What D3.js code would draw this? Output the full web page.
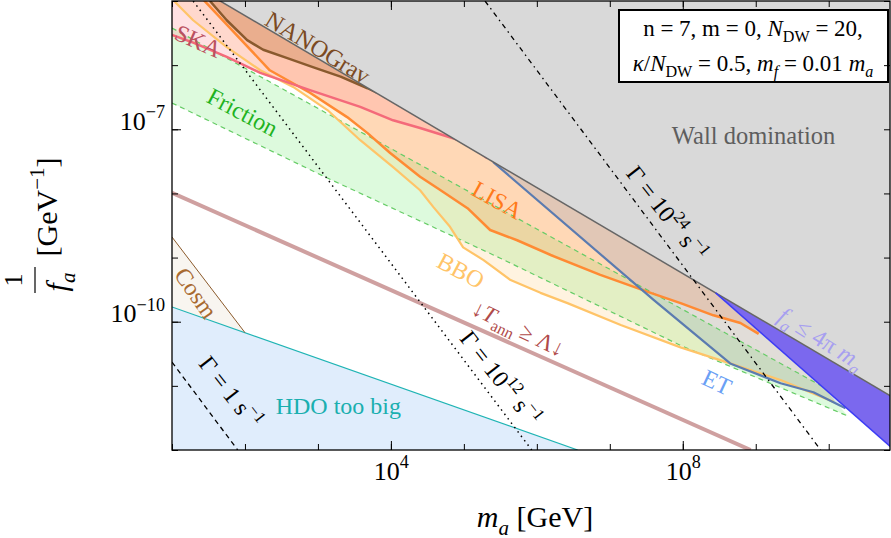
<!DOCTYPE html>
<html>
<head>
<meta charset="utf-8">
<script src="https://cdn.jsdelivr.net/npm/d3@7"></script>
<style>
  body { margin: 0; background: #fff; }
  svg text { font-family: "Liberation Serif", "Times New Roman", serif; }
</style>
</head>
<body>
<svg id="chart" width="891" height="538"></svg>
<script>
// every curve is a list of [log10(m_a / GeV), log10(1/f_a * GeV)] points
const wallLine = [[1.6, -4.96], [11.0, -11.26]];
const fourPiLine = [[8.45, -9.55], [11.0, -12.1]];
const nanogravLine = [[1.52, -5.0], [1.75, -5.30], [2.03, -5.61], [2.25, -5.76], [2.58, -5.89],
  [2.93, -6.03], [3.31, -6.18], [3.68, -6.36], [3.81, -6.43]];
const skaLine = [[1.0, -5.53], [1.29, -5.65], [1.75, -5.87], [2.21, -6.12], [2.89, -6.39],
  [3.58, -6.65], [4.03, -6.86], [4.40, -6.98], [5.05, -7.21], [5.32, -7.45]];
const lisaLine = [[1.43, -4.98], [2.34, -6.08], [2.89, -6.43], [3.40, -6.81], [3.68, -7.06],
  [3.99, -7.37], [4.40, -7.74], [4.64, -7.92], [5.05, -8.23], [5.36, -8.57], [5.73, -8.73],
  [6.19, -8.96], [6.87, -9.27], [7.56, -9.55], [7.97, -9.71], [8.42, -9.90], [8.79, -10.02],
  [9.04, -10.19]];
const bboLine = [[1.01, -4.98], [1.29, -5.30], [1.75, -5.72], [2.21, -6.08], [2.66, -6.34],
  [3.13, -6.70], [3.58, -7.17], [4.03, -7.59], [4.40, -7.95], [4.58, -8.21], [4.81, -8.52],
  [4.99, -8.84], [5.27, -9.04], [5.64, -9.35], [6.05, -9.55], [6.42, -9.71], [7.15, -10.05],
  [7.97, -10.40], [8.65, -10.65], [9.34, -10.91], [10.07, -11.25]];
const etLine = [[5.40, -7.51], [7.60, -9.66], [8.65, -10.65], [9.34, -10.96], [9.79, -11.10],
  [10.23, -11.35]];
const frictionUpper = [[1.0, -5.42], [9.93, -11.02]];
const frictionLower = [[1.0, -6.59], [3.13, -7.76], [5.50, -9.01], [7.97, -10.37], [10.26, -11.47]];
const tannLine = [[1.0, -7.99], [8.93, -12.0]];
const hdoLine = [[1.0, -9.77], [6.56, -12.0]];
const cosmLine = [[1.0, -8.68], [2.0, -10.17]];
const gamma24Line = [[5.29, -5.0], [9.89, -12.0]];
const gamma12Line = [[1.29, -5.0], [5.93, -12.0]];
const gamma1Line = [[1.0, -10.63], [1.9, -12.0]];
const xTicks = [1, 2, 3, 4, 5, 6, 7, 8, 9, 10];
const xLabelled = [4, 8];
const yTicks = [-12, -11, -10, -9, -8, -7, -6, -5];
const yLabelled = [-10, -7];

const W = 891;
const H = 538;
const margin = { top: 1, right: 1, bottom: 88, left: 172 };
const topLog = -4.8;
const bottomLog = -12.2;
const serif = '"Liberation Serif", "Times New Roman", serif';

const svg = d3.select('#chart');
const x = d3.scaleLog().domain([1e1, 10 ** 10.84]).range([margin.left, W - margin.right]);
const y = d3.scaleLog().domain([1e-12, 1e-5]).range([H - margin.bottom, margin.top]);
const line = d3.line().x((d) => x(10 ** d[0])).y((d) => y(10 ** d[1]));
const area = (pts) => `${line(pts)}Z`;
const above = (pts) => [...pts, [pts[pts.length - 1][0], topLog], [pts[0][0], topLog]];
const below = (pts) => [...pts, [pts[pts.length - 1][0], bottomLog], [pts[0][0], bottomLog]];

// write text with italic / sub / superscript pieces
function rich(sel, parts, size) {
  let shift = 0;
  sel.attr('font-family', serif);
  parts.forEach((p) => {
    let target = 0;
    if (p.sub) target = size * 0.25;
    if (p.sup) target = -size * 0.45;
    sel.append('tspan')
      .attr('dy', target - shift)
      .attr('font-size', p.sub || p.sup ? size * 0.7 : size)
      .attr('font-style', p.it ? 'italic' : null)
      .text(p.t);
    shift = target;
  });
}

svg.append('defs').append('clipPath').attr('id', 'clip')
  .append('rect')
  .attr('x', margin.left).attr('y', margin.top)
  .attr('width', W - margin.left - margin.right)
  .attr('height', H - margin.top - margin.bottom);

const g = svg.append('g').attr('clip-path', 'url(#clip)');

// filled regions
g.append('path').attr('d', area(below(hdoLine))).attr('fill', '#e0edfc');
g.append('path').attr('d', area([...cosmLine, hdoLine[0]])).attr('fill', '#f8f5f0');
g.append('path').attr('d', area([...frictionUpper, ...frictionLower.slice().reverse()]))
  .attr('fill', '#90ee90').attr('fill-opacity', 0.3);
g.append('path').attr('d', area(above(bboLine))).attr('fill', '#ffc266').attr('fill-opacity', 0.2);
g.append('path').attr('d', area(above(lisaLine))).attr('fill', '#ff9c55').attr('fill-opacity', 0.3);
g.append('path').attr('d', area(above(skaLine))).attr('fill', '#ff9aa2').attr('fill-opacity', 0.3);
g.append('path').attr('d', area(above(nanogravLine))).attr('fill', '#b8773f').attr('fill-opacity', 0.3);
g.append('path').attr('d', area(above(etLine))).attr('fill', '#5a7ab5').attr('fill-opacity', 0.18);

// boundary curves of the sensitivity regions
const curve = (pts, color, width, dash) => g.append('path')
  .attr('d', line(pts))
  .attr('fill', 'none')
  .attr('stroke', color)
  .attr('stroke-width', width)
  .attr('stroke-linejoin', 'round')
  .attr('stroke-dasharray', dash || null);

curve(frictionUpper, '#66cc66', 1.2, '5,4');
curve(frictionLower, '#66cc66', 1.2, '5,4');
curve(bboLine, '#ffc468', 2.2);
curve(lisaLine, '#ff8a33', 2.5);
curve(skaLine, '#f46a7a', 2.5);
curve(nanogravLine, '#8a5a2e', 2.5);
curve(etLine, '#5b7bb0', 2.2);

// excluded regions
g.append('path').attr('d', area([...fourPiLine, wallLine[1]])).attr('fill', '#7b68ee');
g.append('path').attr('d', area(above(wallLine))).attr('fill', '#d9d9d9');
curve(wallLine, '#666', 1.5);
curve(fourPiLine, '#3c3cf5', 1.5);

curve(tannLine, '#cfa0a0', 4);
curve(hdoLine, '#1fb4b4', 1.2);
curve(cosmLine, '#8b5a2b', 1);
curve(gamma24Line, '#000', 1.3, '5,4,1.5,4');
curve(gamma12Line, '#000', 1.5, '1.5,4');
curve(gamma1Line, '#000', 1.3, '5,4');

// annotations, placed in data coordinates
const labels = [
  { at: [3.0, -5.72], rot: 31, color: '#7b4a22', size: 24, parts: [{ t: 'NANOGrav' }] },
  { at: [1.36, -5.62], rot: 24, color: '#bb5060', size: 24, parts: [{ t: 'SKA' }] },
  { at: [1.97, -6.73], rot: 28, color: '#1fb31f', size: 24, parts: [{ t: 'Friction' }] },
  { at: [5.46, -8.10], rot: 29, color: '#ff7a1a', size: 24, parts: [{ t: 'LISA' }] },
  { at: [4.96, -9.20], rot: 28, color: '#ffc468', size: 24, parts: [{ t: 'BBO' }] },
  { at: [5.75, -10.10], rot: 26, color: '#b04a4a', size: 23,
    parts: [{ t: '↓' }, { t: 'T', it: true }, { t: 'ann', sub: true }, { t: ' ≥ Λ↓' }] },
  { at: [5.50, -10.88], rot: 52, color: '#000', size: 24,
    parts: [{ t: 'Γ = 10' }, { t: '12', sup: true }, { t: ' s' }, { t: '−1', sup: true }] },
  { at: [7.78, -8.31], rot: 52, color: '#000', size: 24,
    parts: [{ t: 'Γ = 10' }, { t: '24', sup: true }, { t: ' s' }, { t: '−1', sup: true }] },
  { at: [1.80, -11.10], rot: 52, color: '#000', size: 24,
    parts: [{ t: 'Γ = 1 s' }, { t: '−1', sup: true }] },
  { at: [1.33, -9.55], rot: 55, color: '#a86a30', size: 24, parts: [{ t: 'Cosm' }] },
  { at: [8.47, -10.94], rot: 25, color: '#6aa0f5', size: 24, parts: [{ t: 'ET' }] },
  { at: [9.90, -10.26], rot: 32, color: '#a79ff0', size: 24,
    parts: [{ t: 'f', it: true }, { t: 'a', it: true, sub: true }, { t: ' ≤ 4π ' },
      { t: 'm', it: true }, { t: 'a', it: true, sub: true }] },
  { at: [8.97, -7.09], rot: 0, color: '#5e5e5e', size: 24.5, parts: [{ t: 'Wall domination' }] },
  { at: [3.28, -11.30], rot: 0, color: '#1aafaf', size: 24, parts: [{ t: 'HDO too big' }] },
];

labels.forEach((l) => {
  const t = svg.append('text')
    .attr('transform', `translate(${x(10 ** l.at[0])},${y(10 ** l.at[1])}) rotate(${l.rot})`)
    .attr('y', l.size * 0.35)
    .attr('text-anchor', 'middle')
    .attr('fill', l.color)
    .attr('font-size', l.size);
  rich(t, l.parts, l.size);
});

// parameter box
svg.append('rect')
  .attr('x', 619).attr('y', 10).attr('width', 269).attr('height', 72)
  .attr('fill', '#fff').attr('stroke', '#000').attr('stroke-width', 2);
const box1 = svg.append('text').attr('x', 753).attr('y', 36)
  .attr('text-anchor', 'middle').attr('font-size', 23);
rich(box1, [{ t: 'n = 7, m = 0, ' }, { t: 'N', it: true }, { t: 'DW', sub: true }, { t: ' = 20,' }], 23);
const box2 = svg.append('text').attr('x', 753).attr('y', 71)
  .attr('text-anchor', 'middle').attr('font-size', 23);
rich(box2, [{ t: 'κ', it: true }, { t: '/' }, { t: 'N', it: true }, { t: 'DW', sub: true },
  { t: ' = 0.5, ' }, { t: 'm', it: true }, { t: 'f', it: true, sub: true }, { t: ' = 0.01 ' },
  { t: 'm', it: true }, { t: 'a', it: true, sub: true }], 23);

// axes with inward ticks on all four sides
function axisGroup(axis, tx, ty) {
  const ag = svg.append('g').attr('transform', `translate(${tx},${ty})`).call(axis);
  ag.select('.domain').remove();
  ag.selectAll('line').attr('stroke', '#000').attr('stroke-width', 1);
  return ag;
}
const xv = (list) => list.map((e) => 10 ** e);
const yb = H - margin.bottom;
const xr = W - margin.right;
axisGroup(d3.axisBottom(x).tickValues(xv(xTicks)).tickSize(-6).tickFormat(''), 0, yb);
axisGroup(d3.axisTop(x).tickValues(xv(xTicks)).tickSize(-6).tickFormat(''), 0, margin.top);
axisGroup(d3.axisLeft(y).tickValues(xv(yTicks)).tickSize(-6).tickFormat(''), margin.left, 0);
axisGroup(d3.axisRight(y).tickValues(xv(yTicks)).tickSize(-6).tickFormat(''), xr, 0);
axisGroup(d3.axisTop(x).tickValues(xv(xLabelled)).tickSize(-9).tickFormat(''), 0, margin.top);

const bx = axisGroup(d3.axisBottom(x).tickValues(xv(xLabelled)).tickSize(-9).tickPadding(30), 0, yb);
bx.selectAll('text').each(function (d) {
  const t = d3.select(this).text(null).attr('font-size', 26).attr('fill', '#000');
  rich(t, [{ t: '10' }, { t: String(Math.round(Math.log10(d))), sup: true }], 26);
});
const ly = axisGroup(d3.axisLeft(y).tickValues(xv(yLabelled)).tickSize(-9).tickPadding(7), margin.left, 0);
ly.selectAll('text').each(function (d) {
  const t = d3.select(this).text(null).attr('font-size', 26).attr('fill', '#000');
  rich(t, [{ t: '10' }, { t: `−${Math.round(-Math.log10(d))}`, sup: true }], 26);
});

svg.append('rect')
  .attr('x', margin.left).attr('y', margin.top)
  .attr('width', xr - margin.left).attr('height', yb - margin.top)
  .attr('fill', 'none').attr('stroke', '#000').attr('stroke-width', 1.3);

// axis titles
const xt = svg.append('text').attr('x', 535).attr('y', 527)
  .attr('text-anchor', 'middle').attr('font-size', 30);
rich(xt, [{ t: 'm', it: true }, { t: 'a', it: true, sub: true }, { t: ' [GeV]' }], 30);

const yt = svg.append('g').attr('transform', 'translate(45,225) rotate(-90)');
const one = yt.append('text').attr('x', -55).attr('y', -23).attr('text-anchor', 'middle')
  .attr('font-size', 26);
rich(one, [{ t: '1' }], 26);
yt.append('line').attr('x1', -68).attr('x2', -42).attr('y1', -10).attr('y2', -10)
  .attr('stroke', '#000').attr('stroke-width', 1.2);
const fa = yt.append('text').attr('x', -57).attr('y', 22).attr('text-anchor', 'middle')
  .attr('font-size', 30);
rich(fa, [{ t: 'f', it: true }, { t: 'a', it: true, sub: true }], 30);
const gev = yt.append('text').attr('x', 18).attr('y', 12).attr('text-anchor', 'middle')
  .attr('font-size', 30);
rich(gev, [{ t: '[GeV' }, { t: '−1', sup: true }, { t: ']' }], 30);
</script>
</body>
</html>
